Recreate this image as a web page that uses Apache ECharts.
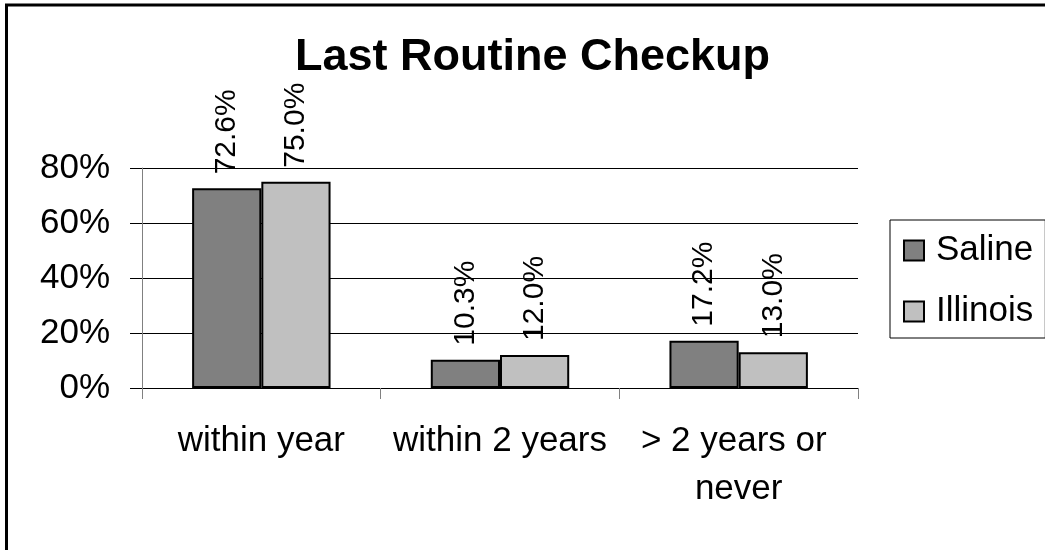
<!DOCTYPE html>
<html>
<head>
<meta charset="utf-8">
<script src="https://cdn.jsdelivr.net/npm/echarts@6/dist/echarts.min.js"></script>
<style>
  html, body { margin: 0; padding: 0; background: #fff; }
  #main { width: 1045px; height: 550px; }
</style>
</head>
<body>
<div id="main"></div>
<script>
var categories = ['within year', 'within 2 years', '> 2 years or never'];
var seriesNames = ['Saline', 'Illinois'];
var saline = [0.726, 0.103, 0.172];
var illinois = [0.75, 0.12, 0.13];
var yTicks = { min: 0, max: 0.8, interval: 0.2 };

var FONT = '"Liberation Sans", Arial, sans-serif';

var chart = echarts.init(document.getElementById('main'));

function pct1(p) {
  return (p.value * 100).toFixed(1) + '%';
}

function barSeries(name, data, color) {
  return {
    name: name,
    type: 'bar',
    data: data,
    barGap: '0%',
    barCategoryGap: '42%',
    itemStyle: { color: color, borderColor: '#000', borderWidth: 2 },
    label: {
      show: true,
      position: 'top',
      distance: 14,
      rotate: 90,
      align: 'left',
      verticalAlign: 'middle',
      fontFamily: FONT,
      fontSize: 30,
      color: '#000',
      formatter: pct1
    }
  };
}

chart.setOption({
  backgroundColor: '#fff',
  animation: false,
  title: {
    text: 'Last Routine Checkup',
    left: 295,
    top: 35,
    padding: 0,
    textStyle: { fontFamily: FONT, fontSize: 45, fontWeight: 'bold', color: '#000' }
  },
  legend: {
    orient: 'vertical',
    left: 890,
    top: 220,
    padding: [13, 12, 9, 13],
    itemGap: 26,
    itemWidth: 20,
    itemHeight: 20,
    icon: 'rect',
    borderColor: '#000',
    borderWidth: 1,
    data: seriesNames,
    textStyle: { fontFamily: FONT, fontSize: 35, lineHeight: 35, color: '#000', padding: [0, 0, 0, 7] }
  },
  grid: { left: 142, right: 187, top: 168, bottom: 162 },
  xAxis: {
    type: 'category',
    data: categories,
    axisLine: { lineStyle: { color: '#000', width: 1 } },
    axisTick: { show: true, length: 11, alignWithLabel: false, lineStyle: { color: '#808080' } },
    axisLabel: {
      interval: 0,
      margin: 29,
      fontFamily: FONT,
      fontSize: 35,
      lineHeight: 48,
      color: '#000',
      width: 235,
      overflow: 'break'
    }
  },
  yAxis: {
    type: 'value',
    min: yTicks.min,
    max: yTicks.max,
    interval: yTicks.interval,
    axisLine: { show: true, lineStyle: { color: '#808080', width: 1 } },
    axisTick: { show: true, length: 12, lineStyle: { color: '#000' } },
    splitLine: { lineStyle: { color: '#000', width: 1 } },
    axisLabel: {
      margin: 32,
      fontFamily: FONT,
      fontSize: 35,
      color: '#000',
      formatter: function (v) { return Math.round(v * 100) + '%'; }
    }
  },
  graphic: [{
    type: 'rect',
    silent: true,
    shape: { x: 6.5, y: 5, width: 1100, height: 600 },
    style: { fill: 'none', stroke: '#000', lineWidth: 3 }
  }],
  series: [
    barSeries(seriesNames[0], saline, '#808080'),
    barSeries(seriesNames[1], illinois, '#C0C0C0')
  ]
});
</script>
</body>
</html>
